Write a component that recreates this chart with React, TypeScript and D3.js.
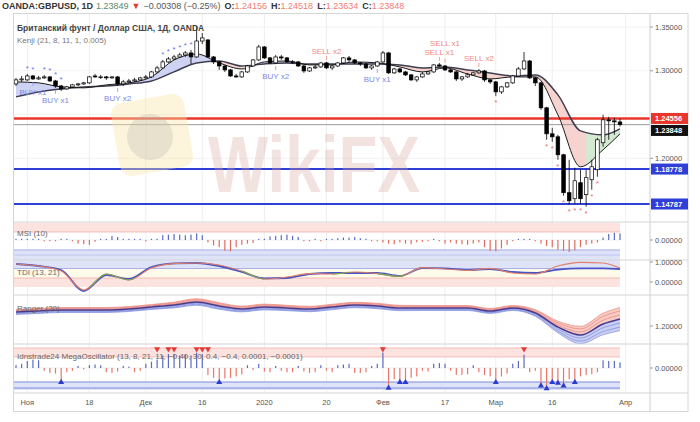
import React from "react";
import * as d3 from "d3";

// ---------- candles (daily, GBPUSD) ----------
const opens = [
  1.2850,1.2896,1.2896,1.2941,1.2907,1.2919,1.2930,1.2884,1.2827,1.2793,
  1.2816,1.2839,1.2850,1.2862,1.2941,1.2930,1.2930,1.2919,1.2930,1.2850,
  1.2873,1.2884,1.2896,1.2919,1.2930,1.2987,1.3033,1.3101,1.3135,1.3158,
  1.3181,1.3204,1.3158,1.3340,1.3352,1.3158,1.3101,1.3055,1.3010,1.2941,
  1.2930,1.2987,1.3055,1.3124,1.3272,1.3147,1.3090,1.3158,1.3147,1.3101,
  1.3101,1.3055,1.2998,1.3033,1.3044,1.3090,1.3033,1.3055,1.3090,1.3147,
  1.3124,1.3090,1.3078,1.3033,1.3055,1.3101,1.3204,1.2976,1.3021,1.2987,
  1.2953,1.2896,1.2930,1.2964,1.2987,1.3067,1.3055,1.3010,1.2987,1.2907,
  1.2930,1.2953,1.2976,1.2998,1.2896,1.2873,1.2759,1.2816,1.2862,1.2941,
  1.3021,1.3112,1.2919,1.2862,1.2577,1.2280,1.2246,1.2041,1.1608,1.1539,
  1.1722,1.1585,1.1756,1.1870,1.2178,1.2440,1.2428,1.24156];
const highs = [
  1.2919,1.2941,1.2964,1.2953,1.2941,1.2953,1.2941,1.2896,1.2839,1.2827,
  1.2850,1.2862,1.2873,1.2941,1.2964,1.2953,1.2941,1.2941,1.2941,1.2896,
  1.2907,1.2919,1.2930,1.2953,1.2998,1.3055,1.3124,1.3158,1.3181,1.3204,
  1.3226,1.3238,1.3514,1.3432,1.3363,1.3169,1.3112,1.3067,1.3021,1.2964,
  1.2998,1.3067,1.3135,1.3295,1.3283,1.3158,1.3181,1.3181,1.3158,1.3124,
  1.3112,1.3067,1.3044,1.3067,1.3101,1.3101,1.3067,1.3101,1.3158,1.3169,
  1.3135,1.3101,1.3090,1.3067,1.3112,1.3226,1.3215,1.3033,1.3033,1.2998,
  1.2964,1.2941,1.2987,1.2998,1.3078,1.3090,1.3067,1.3021,1.2998,1.2941,
  1.2976,1.2987,1.3021,1.3010,1.2907,1.2884,1.2827,1.2873,1.2953,1.3044,
  1.3215,1.3124,1.2930,1.2873,1.2588,1.2349,1.2269,1.2052,1.1984,1.1893,
  1.1870,1.1870,1.1984,1.2235,1.2497,1.2474,1.2463,1.24518];
const lows = [
  1.2827,1.2873,1.2884,1.2896,1.2896,1.2907,1.2873,1.2805,1.2770,1.2782,
  1.2805,1.2827,1.2839,1.2850,1.2919,1.2907,1.2896,1.2907,1.2827,1.2827,
  1.2862,1.2873,1.2884,1.2907,1.2919,1.2976,1.3021,1.3090,1.3124,1.3147,
  1.3158,1.3078,1.3147,1.3306,1.3147,1.3078,1.3010,1.2987,1.2930,1.2919,
  1.2919,1.2976,1.3044,1.3112,1.3135,1.3078,1.3078,1.3124,1.3090,1.3078,
  1.3044,1.2976,1.2987,1.3021,1.3033,1.3021,1.3010,1.3044,1.3078,1.3101,
  1.3078,1.3055,1.3021,1.3010,1.3044,1.3090,1.2964,1.2964,1.2976,1.2941,
  1.2884,1.2873,1.2919,1.2953,1.2976,1.3044,1.2998,1.2976,1.2884,1.2884,
  1.2919,1.2941,1.2964,1.2873,1.2850,1.2713,1.2736,1.2805,1.2850,1.2930,
  1.3010,1.2907,1.2827,1.2554,1.2212,1.2189,1.1984,1.1573,1.1471,1.1482,
  1.1482,1.1448,1.1642,1.1790,1.2132,1.2212,1.2269,1.23634];
const closes = [
  1.2896,1.2907,1.2941,1.2907,1.2919,1.2930,1.2884,1.2827,1.2793,1.2816,
  1.2839,1.2850,1.2862,1.2930,1.2930,1.2930,1.2919,1.2930,1.2850,1.2873,
  1.2884,1.2896,1.2919,1.2930,1.2987,1.3033,1.3101,1.3135,1.3158,1.3181,
  1.3204,1.3158,1.3340,1.3375,1.3158,1.3101,1.3055,1.3010,1.2941,1.2930,
  1.2987,1.3055,1.3124,1.3272,1.3147,1.3090,1.3158,1.3147,1.3101,1.3101,
  1.3055,1.2998,1.3033,1.3044,1.3090,1.3033,1.3055,1.3090,1.3147,1.3124,
  1.3090,1.3078,1.3033,1.3055,1.3101,1.3204,1.2976,1.3021,1.2987,1.2953,
  1.2896,1.2930,1.2964,1.2987,1.3067,1.3055,1.3010,1.2987,1.2907,1.2930,
  1.2953,1.2976,1.2998,1.2896,1.2873,1.2759,1.2816,1.2862,1.2941,1.3021,
  1.3112,1.2919,1.2862,1.2577,1.2280,1.2246,1.2041,1.1608,1.1516,1.1744,
  1.1539,1.1779,1.1904,1.2212,1.2440,1.2428,1.2417,1.23848];

// ---------- x axis ----------
const xTickIdx = [2, 13, 23, 33, 44, 55, 65, 76, 85, 95, 108];
const xTickLabels = ["Ноя", "18", "Дек", "16", "2020", "20", "Фев", "17", "Мар", "16", "Апр"];

// ---------- indicator samples (every 4th bar) ----------
const sampleIdx = [0,4,8,12,16,20,24,28,32,36,40,44,48,52,56,60,64,68,72,76,80,84,88,92,96,100,104,107];
const kenjiFast = [1.2873,1.2862,1.2816,1.2805,1.2839,1.2862,1.2930,1.3124,1.3192,1.3090,1.3021,1.3101,1.3112,1.3067,
  1.3067,1.3101,1.3090,1.3044,1.2987,1.3033,1.2964,1.2907,1.2930,1.2930,1.2497,1.1904,1.2098,1.2280];
const kenjiSlow = [1.2702,1.2759,1.2793,1.2816,1.2827,1.2850,1.2884,1.2987,1.3090,1.3112,1.3055,1.3078,1.3090,1.3078,
  1.3078,1.3078,1.3078,1.3067,1.3033,1.3044,1.3010,1.2976,1.2941,1.2953,1.2725,1.2314,1.2269,1.2337];
const kenjiGreenRanges = [[9, 23], [101, 107]];
const tdiBase = [0.90,0.80,0.60,-0.45,0.35,0.15,0.75,0.93,0.95,0.80,0.50,0.18,0.20,0.40,
  0.45,0.45,0.45,0.30,0.70,0.68,0.60,0.65,0.50,0.45,0.62,0.68,0.68,0.65];
const tdiSignal = [0.90,0.80,0.55,-0.40,0.40,0.10,0.70,0.92,0.95,0.85,0.55,0.15,0.25,0.42,
  0.40,0.50,0.42,0.28,0.72,0.65,0.58,0.68,0.45,0.40,0.80,0.98,0.95,0.70];
const tdiGreenRanges = [[13, 21], [40, 44], [56, 59], [64, 69]];
const rangerMid = [1.2676,1.2725,1.2773,1.2773,1.2773,1.2821,1.2918,1.3014,1.3159,1.2966,1.2821,1.2918,1.2870,1.2821,
  1.2918,1.3014,1.2966,1.2870,1.2870,1.2870,1.2870,1.2725,1.2870,1.2628,1.1952,1.1565,1.2097,1.2338];
const rangerWidth = [0.012,0.012,0.012,0.012,0.012,0.012,0.012,0.014,0.016,0.016,0.014,0.014,0.013,0.013,
  0.013,0.013,0.013,0.013,0.012,0.012,0.012,0.012,0.012,0.016,0.028,0.042,0.052,0.056];

// ---------- histograms (one value per bar) ----------
const msiValues = [
  0.08,0.1,0.05,0.06,0.04,-0.05,-0.08,-0.1,0.05,0.03,
  -0.1,-0.3,-0.35,-0.4,-0.15,0.05,0.1,0.33,0.25,0.1,
  0.05,0.04,0.03,-0.05,0.05,0.1,0.4,0.45,0.5,0.45,
  0.4,0.45,0.55,0.4,-0.2,-0.45,-0.6,-0.9,-0.95,-0.6,
  -0.4,-0.3,-0.25,0.05,0.1,0.3,0.35,0.4,0.45,0.35,
  0.25,-0.05,-0.1,0.05,-0.08,0.1,0.1,0.15,0.2,0.2,
  0.25,0.15,0.1,-0.05,-0.1,-0.2,-0.3,-0.35,-0.2,-0.3,
  -0.35,-0.2,-0.15,-0.1,0.05,-0.05,-0.3,-0.2,-0.3,-0.35,
  -0.4,-0.3,-0.2,-0.6,-0.9,-0.95,-0.7,-0.4,-0.05,0.05,
  0.1,0.05,-0.1,-0.3,-0.5,-0.6,-0.8,-0.9,-1.0,-0.85,
  -0.6,-0.4,-0.3,-0.2,0.2,0.5,0.6,0.55];
const oscValues = [
  0.2,0.3,0.5,0.6,0.55,-0.2,-0.35,-0.4,-0.85,-0.3,
  -0.2,0.15,-0.1,0.2,0.25,0.2,-0.3,-0.35,-0.25,0.15,
  0.1,-0.3,-0.2,0.3,0.45,0.6,0.9,1.0,1.0,0.9,
  0.95,0.9,1.1,1.0,-0.5,-0.7,-0.8,-0.75,-0.7,-0.6,
  -0.45,0.2,-0.15,0.3,-0.25,-0.3,0.15,-0.2,-0.3,-0.3,
  0.15,-0.25,-0.35,-0.3,0.2,-0.2,-0.3,0.2,0.25,0.3,
  -0.35,-0.35,-0.3,0.15,0.3,1.1,-1.35,-0.8,-0.85,-0.8,
  -0.7,-0.6,-0.2,-0.25,0.3,0.35,0.3,-0.2,-0.5,-0.5,
  -0.45,0.2,-0.3,-0.5,-0.6,-0.8,-0.6,-0.4,0.3,0.5,
  0.95,-0.3,-0.2,-1.2,-1.4,-0.85,-1.0,-1.2,-0.8,-0.85,
  -0.6,-0.5,-0.45,-0.3,0.55,0.5,0.5,0.4];
const oscSellIdx = [25, 27, 28, 32, 33, 34, 65, 90];
const oscBuyIdx = [8, 36, 66, 68, 69, 85, 93, 94, 95, 96, 97, 99];

// ---------- signals ----------
const blueStarIdx = [2, 3, 5, 6, 7, 8, 26, 27, 28, 29, 30, 31];
const redStarIdx = [85, 94, 95, 96, 97, 98, 99, 100, 101, 102, 103];
const buyIdx = [3, 7, 18, 46, 64];
const buyLabels = ["BUY x1", "BUY x1", "BUY x2", "BUY x2", "BUY x1"];
const sellIdx = [55, 75, 76, 82];
const sellLabels = ["SELL x2", "SELL x1", "SELL x1", "SELL x2"];

// ---------- price levels & axis ----------
const levelValues = [1.24556, 1.23848, 1.18778, 1.14787];
const levelLabels = ["1.24556", "1.23848", "1.18778", "1.14787"];
const priceTicks = [1.35, 1.30, 1.20];
const priceTickLabels = ["1.35000", "1.30000", "1.20000"];

const FONT = "'Liberation Sans', Arial, sans-serif";

export default function App() {
  const x = d3.scaleLinear().domain([0, 107]).range([16, 620]);
  const yP = d3.scaleLinear().domain([1.14787, 1.35]).range([204, 27]);
  const yM = d3.scaleLinear().domain([-1, 1]).range([252, 228]);
  const yT = d3.scaleLinear().domain([0, 1]).range([282, 262]);
  const yR = d3.scaleLinear().domain([1.2, 1.3]).range([326, 305.3]);
  const yO = d3.scaleLinear().domain([-1, 1]).range([382, 354]);
  const sx = (k: number) => x(sampleIdx[k]);
  const curve = d3.curveMonotoneX;
  const lineOf = (arr: number[], ys: (v: number) => number) =>
    d3.line<number>().x((_, k) => sx(k)).y((v) => ys(v)).curve(curve)(arr) || "";
  const areaOf = (arr: number[], ys: (v: number) => number, y0: number) =>
    d3.area<number>().x((_, k) => sx(k)).y0(y0).y1((v) => ys(v)).curve(curve)(arr) || "";

  const PL = 14, PR = 650, FR = 688;
  const mainTop = 14, mainBot = 222;
  const seps = [222, 260, 295, 344, 393];
  const bandR = x(107);

  const candleW = 3.6;

  // price label boxes with collision avoidance
  const levelColors = ["#e8362c", "#111111", "#2f3ed6", "#2f3ed6"];
  const boxes: { y: number }[] = [];
  let prevBottom = -Infinity;
  levelValues.forEach((v) => {
    let top = yP(v) - 5.5;
    if (top < prevBottom + 1) top = prevBottom + 1;
    boxes.push({ y: top });
    prevBottom = top + 11;
  });

  // sell labels: lift a label if it would collide with the previous one
  const sellPos: { x: number; y: number }[] = [];
  sellIdx.forEach((i, k) => {
    let ly = yP(highs[i]) - 8;
    const prev = sellPos[k - 1];
    if (prev && Math.abs(prev.x - x(i)) < 30 && Math.abs(prev.y - ly) < 9) ly = prev.y - 9;
    sellPos.push({ x: x(i), y: ly });
  });

  const rangerBand = (sign: number, f0: number, f1: number) =>
    d3.area<number>().x((_, k) => sx(k))
      .y0((v, k) => yR(v + sign * f0 * rangerWidth[k]))
      .y1((v, k) => yR(v + sign * f1 * rangerWidth[k]))
      .curve(curve)(rangerMid) || "";
  const rangerLine = (sign: number, f: number) =>
    d3.line<number>().x((_, k) => sx(k)).y((v, k) => yR(v + sign * f * rangerWidth[k])).curve(curve)(rangerMid) || "";

  const tri = d3.symbol().type(d3.symbolTriangle).size(16)() || "";

  return (
    <svg width={700} height={422} style={{ position: "absolute", left: 0, top: 0 }} fontFamily={FONT}>
      <defs>
        <clipPath id="cMain"><rect x={PL} y={mainTop} width={PR - PL} height={mainBot - mainTop} /></clipPath>
        <clipPath id="cAboveSlow"><path d={areaOf(kenjiSlow, yP, mainTop)} /></clipPath>
        <clipPath id="cAboveFast"><path d={areaOf(kenjiFast, yP, mainTop)} /></clipPath>
        <clipPath id="cGreen">
          {kenjiGreenRanges.map(([a, b], k) => (
            <rect key={k} x={x(a)} y={mainTop} width={x(b) - x(a) + 2} height={mainBot - mainTop} />
          ))}
        </clipPath>
        <clipPath id="cTdiGreen">
          {tdiGreenRanges.map(([a, b], k) => (
            <rect key={k} x={x(a)} y={260} width={x(b) - x(a)} height={35} />
          ))}
        </clipPath>
        <clipPath id="cRanger"><rect x={PL} y={295} width={PR - PL} height={49} /></clipPath>
        <clipPath id="cTdi"><rect x={PL} y={260} width={PR - PL} height={35} /></clipPath>
      </defs>
      <rect x={0} y={0} width={700} height={422} fill="#fff" />

      {/* header */}
      <text x={2} y={9} fontSize={9}>
        <tspan fontWeight={700} fill="#333">OANDA:GBPUSD, 1D</tspan>
        <tspan dx={3} fill="#5a8a6a">1.23849</tspan>
        <tspan dx={3} fill="#e53935">▼</tspan>
        <tspan dx={3} fill="#555">−0.00308 (−0.25%)</tspan>
        <tspan dx={4} fontWeight={700} fill="#333">O:</tspan>
        <tspan fill="#ef7d74">1.24156</tspan>
        <tspan dx={4} fontWeight={700} fill="#333">H:</tspan>
        <tspan fill="#ef7d74">1.24518</tspan>
        <tspan dx={4} fontWeight={700} fill="#333">L:</tspan>
        <tspan fill="#ef7d74">1.23634</tspan>
        <tspan dx={4} fontWeight={700} fill="#333">C:</tspan>
        <tspan fill="#ef7d74">1.23848</tspan>
      </text>

      {/* vertical grid */}
      {xTickIdx.map((i, k) => (
        <line key={k} x1={x(i)} x2={x(i)} y1={mainTop} y2={393} stroke="#eeeeee" strokeWidth={1} />
      ))}
      {[1.35, 1.30, 1.25, 1.20].map((v, k) => (
        <line key={k} x1={PL} x2={PR} y1={yP(v)} y2={yP(v)} stroke="#f3f3f3" strokeWidth={1} />
      ))}

      {/* MSI bands */}
      <rect x={PL} y={yM(1.42)} width={bandR - PL} height={yM(0.67) - yM(1.42)} fill="#fde3df" />
      <line x1={PL} x2={bandR} y1={yM(0.67)} y2={yM(0.67)} stroke="#f3b0a8" strokeWidth={0.8} />
      <rect x={PL} y={yM(-0.83)} width={bandR - PL} height={yM(-1.67) - yM(-0.83)} fill="#dfe3f8" />
      <line x1={PL} x2={bandR} y1={yM(-0.83)} y2={yM(-0.83)} stroke="#8f9be0" strokeWidth={0.8} />
      <line x1={PL} x2={bandR} y1={yM(-1.25)} y2={yM(-1.25)} stroke="#b6bfee" strokeWidth={0.8} />
      {/* TDI bands */}
      <rect x={PL} y={yT(1.1)} width={bandR - PL} height={yT(0.65) - yT(1.1)} fill="#dfe3f8" />
      <line x1={PL} x2={bandR} y1={yT(0.65)} y2={yT(0.65)} stroke="#6f7fd6" strokeWidth={1} />
      <rect x={PL} y={yT(0.65)} width={bandR - PL} height={yT(0.2) - yT(0.65)} fill="#fffbea" />
      <rect x={PL} y={yT(0.2)} width={bandR - PL} height={yT(-0.25) - yT(0.2)} fill="#fde3df" />
      <line x1={PL} x2={bandR} y1={yT(0.2)} y2={yT(0.2)} stroke="#f3b0a8" strokeWidth={0.8} />
      {/* Osc bands */}
      <rect x={PL} y={yO(1.43)} width={bandR - PL} height={yO(0.79) - yO(1.43)} fill="#fde3df" />
      <line x1={PL} x2={bandR} y1={yO(1.43)} y2={yO(1.43)} stroke="#f3b0a8" strokeWidth={0.8} />
      <line x1={PL} x2={bandR} y1={yO(0.79)} y2={yO(0.79)} stroke="#f3b0a8" strokeWidth={0.8} />
      <rect x={PL} y={yO(-1.0)} width={bandR - PL} height={yO(-1.57) - yO(-1.0)} fill="#dfe3f8" />
      <line x1={PL} x2={bandR} y1={yO(-1.0)} y2={yO(-1.0)} stroke="#6f7fd6" strokeWidth={0.9} />
      <line x1={PL} x2={bandR} y1={yO(-1.43)} y2={yO(-1.43)} stroke="#6f7fd6" strokeWidth={0.9} />

      {/* main panel */}
      <g clipPath="url(#cMain)">
        {/* kenji cloud */}
        <g clipPath="url(#cAboveSlow)">
          <path d={areaOf(kenjiFast, yP, mainBot)} fill="#cfd3f3" />
        </g>
        <g clipPath="url(#cAboveFast)">
          <path d={areaOf(kenjiSlow, yP, mainBot)} fill="#f7d3d0" />
          <g clipPath="url(#cGreen)">
            <path d={areaOf(kenjiSlow, yP, mainBot)} fill="#d3ead1" />
          </g>
        </g>
        {/* level lines */}
        {levelValues.map((v, k) => (
          <line key={k} x1={PL} x2={PR} y1={yP(v)} y2={yP(v)} stroke={k === 1 ? "#9a9a9a" : levelColors[k]}
            strokeWidth={k === 0 ? 2.6 : k === 1 ? 1 : 2} />
        ))}
        <path d={lineOf(kenjiSlow, yP)} fill="none" stroke="#3e3e50" strokeWidth={1.5} />
        <path d={lineOf(kenjiFast, yP)} fill="none" stroke="#1a1a1a" strokeWidth={1} />
        {/* candles */}
        {opens.map((o, i) => {
          const c = closes[i];
          const up = c >= o;
          const yTop = yP(Math.max(o, c));
          const yBot = yP(Math.min(o, c));
          return (
            <g key={i}>
              <line x1={x(i)} x2={x(i)} y1={yP(highs[i])} y2={yP(lows[i])} stroke="#000" strokeWidth={0.8} />
              <rect x={x(i) - candleW / 2} y={yTop} width={candleW} height={Math.max(0.8, yBot - yTop)}
                fill={up ? "#fff" : "#000"} stroke="#000" strokeWidth={0.7} />
            </g>
          );
        })}
        {blueStarIdx.map((i) => (
          <text key={"b" + i} x={x(i)} y={yP(highs[i]) - 3} fontSize={8} fill="#6b74e0" textAnchor="middle">*</text>
        ))}
        {redStarIdx.map((i) => (
          <text key={"r" + i} x={x(i)} y={yP(lows[i]) + 9} fontSize={8} fill="#e57373" textAnchor="middle">*</text>
        ))}
        {buyIdx.map((i, k) => (
          <g key={"buy" + k}>
            <line x1={x(i)} x2={x(i)} y1={yP(lows[i]) + 2} y2={yP(lows[i]) + 6} stroke="#8a93e8" strokeWidth={0.8} />
            <text x={x(i)} y={yP(lows[i]) + 15} fontSize={8} fill="#7d86e8" textAnchor="middle">{buyLabels[k]}</text>
          </g>
        ))}
        {sellIdx.map((i, k) => (
          <g key={"sell" + k}>
            <line x1={x(i)} x2={x(i)} y1={yP(highs[i]) - 2} y2={yP(highs[i]) - 6} stroke="#f08a7e" strokeWidth={0.8} />
            <text x={sellPos[k].x} y={sellPos[k].y} fontSize={8} fill="#f08a7e" textAnchor="middle">{sellLabels[k]}</text>
          </g>
        ))}
      </g>
      <text x={17} y={31} fontSize={8.5} fontWeight={600} fill="#444">Британский фунт / Доллар США, 1Д, OANDA</text>
      <text x={17} y={43} fontSize={8} fill="#777">Kenji (21, 8, 11, 1, 0.005)</text>

      {/* MSI histogram */}
      <line x1={PL} x2={bandR} y1={yM(0)} y2={yM(0)} stroke="#e6e6e6" strokeWidth={0.6} />
      {msiValues.map((v, i) => {
        const y0 = yM(0), y1 = yM(v);
        const len = Math.max(1.2, Math.abs(y1 - y0));
        return (
          <rect key={i} x={x(i) - 0.6} y={v >= 0 ? y0 - len : y0} width={1.2} height={len}
            fill={v >= 0 ? "#5c6bc0" : "#e06a5f"} />
        );
      })}
      <text x={17} y={236} fontSize={8} fill="#666">MSI (10)</text>

      {/* TDI */}
      <g clipPath="url(#cTdi)">
        <path d={lineOf(tdiBase, yT)} fill="none" stroke="#4656c4" strokeWidth={1.8} />
        <path d={lineOf(tdiSignal, yT)} fill="none" stroke="#e27d68" strokeWidth={1.1} />
        <g clipPath="url(#cTdiGreen)">
          <path d={lineOf(tdiSignal, yT)} fill="none" stroke="#72a85a" strokeWidth={1.1} />
        </g>
      </g>
      <text x={17} y={275} fontSize={8} fill="#666">TDI (13, 21)</text>

      {/* Ranger */}
      <g clipPath="url(#cRanger)">
        <path d={rangerBand(1, 0, 1)} fill="#f4b9b2" opacity={0.75} />
        <path d={rangerBand(-1, 0, 1)} fill="#bcc3f0" opacity={0.8} />
        {[0.35, 0.7, 1].map((f) => (
          <path key={"u" + f} d={rangerLine(1, f)} fill="none" stroke="#e8766b" strokeWidth={0.6} />
        ))}
        {[0.35, 0.7, 1].map((f) => (
          <path key={"d" + f} d={rangerLine(-1, f)} fill="none" stroke="#6f7fd6" strokeWidth={0.6} />
        ))}
        <path d={lineOf(rangerMid, yR)} fill="none" stroke="#4b3a8c" strokeWidth={1.5} />
      </g>
      <text x={17} y={311} fontSize={8} fill="#666">Ranger (20)</text>

      {/* Oscillator */}
      <line x1={PL} x2={bandR} y1={yO(0)} y2={yO(0)} stroke="#e6e6e6" strokeWidth={0.6} />
      {oscValues.map((v, i) => {
        const y0 = yO(0), y1 = yO(v);
        const len = Math.max(1.2, Math.abs(y1 - y0));
        return (
          <rect key={i} x={x(i) - 0.6} y={v >= 0 ? y0 - len : y0} width={1.2} height={len}
            fill={v >= 0 ? "#5c6bc0" : "#e8766b"} />
        );
      })}
      <text x={17} y={359} fontSize={8} fill="#666">Idnstrade24 MegaOscillator (13, 8, 21, 11, −0.40, 30, 0.4, −0.4, 0.0001, −0.0001)</text>
      {oscSellIdx.map((i) => (
        <path key={"os" + i} d={tri} transform={`translate(${x(i)},${yO(1.35)}) rotate(180)`} fill="#e53935" />
      ))}
      {oscBuyIdx.map((i) => (
        <path key={"ob" + i} d={tri} transform={`translate(${x(i)},${yO(Math.min(oscValues[i], -0.95)) + 1})`} fill="#2b3bd0" />
      ))}

      {/* watermark */}
      <g>
        <rect x={115} y={98} width={74} height={74} rx={12} fill="#fbe6a6" opacity={0.4} transform="rotate(-10 152 135)" />
        <circle cx={150} cy={137} r={23} fill="#a9a9a9" opacity={0.25} />
        <text x={208} y={192} fontSize={80} fontWeight={700} fill="#d6a69c" opacity={0.3}
          textLength={212} lengthAdjust="spacingAndGlyphs">WikiFX</text>
      </g>

      {/* separators & frame */}
      {seps.map((y, k) => (
        <line key={k} x1={PL} x2={FR} y1={y} y2={y} stroke="#d4d4d4" strokeWidth={1} />
      ))}
      <line x1={PR} x2={PR} y1={mainTop} y2={412} stroke="#cfcfcf" strokeWidth={1} />
      <rect x={13.5} y={13.5} width={FR - 13.5} height={398} fill="none" stroke="#d6d6d6" strokeWidth={1} />

      {/* price axis */}
      {priceTicks.map((v, k) => (
        <g key={k}>
          <line x1={PR} x2={PR + 3} y1={yP(v)} y2={yP(v)} stroke="#999" />
          <text x={PR + 5} y={yP(v)} dy="0.35em" fontSize={7.5} fill="#555">{priceTickLabels[k]}</text>
        </g>
      ))}
      {levelValues.map((v, k) => (
        <g key={"lb" + k}>
          <rect x={PR + 1} y={boxes[k].y} width={37} height={11} fill={levelColors[k]} />
          <text x={PR + 5} y={boxes[k].y + 5.5} dy="0.35em" fontSize={7.5} fontWeight={700} fill="#fff">{levelLabels[k]}</text>
        </g>
      ))}
      {[{ y: yM(0), t: "0.00000" }, { y: yT(1), t: "1.00000" }, { y: yT(0), t: "0.00000" },
        { y: yR(1.2), t: "1.20000" }, { y: yO(0), t: "0.00000" }].map((d, k) => (
        <g key={"pa" + k}>
          <line x1={PR} x2={PR + 3} y1={d.y} y2={d.y} stroke="#999" />
          <text x={PR + 5} y={d.y} dy="0.35em" fontSize={7.5} fill="#555">{d.t}</text>
        </g>
      ))}

      {/* x axis labels */}
      {xTickIdx.map((i, k) => (
        <text key={k} x={x(i)} y={405} fontSize={7.5} fill="#555" textAnchor="middle">{xTickLabels[k]}</text>
      ))}
    </svg>
  );
}
